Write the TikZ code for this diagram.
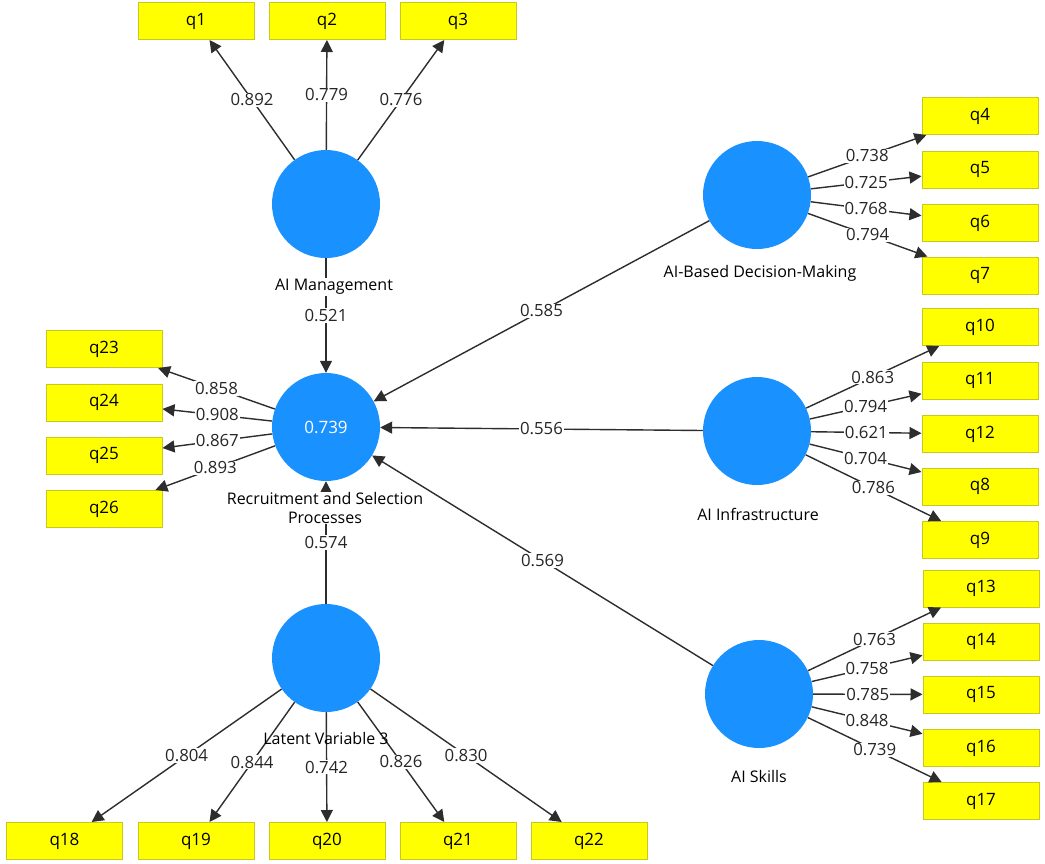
\documentclass[tikz,border=0pt]{standalone}
\usepackage{fontspec}
\setmainfont{Open Sans}
\usetikzlibrary{arrows.meta}
\definecolor{lvblue}{RGB}{25,145,255}
\definecolor{boxfill}{RGB}{255,255,0}
\definecolor{boxedge}{RGB}{200,200,30}
\definecolor{linec}{RGB}{45,45,45}
\begin{document}
\begin{tikzpicture}[x=1pt,y=-1pt,
 lv/.style={circle,fill=lvblue,minimum size=108pt,inner sep=0pt,text=white,font=\fontsize{17}{19}\selectfont},
 ind/.style={rectangle,fill=boxfill,draw=boxedge,line width=1pt,minimum width=116pt,minimum height=37pt,inner sep=0pt,font=\fontsize{17}{19}\selectfont},
 conn/.style={draw=linec,line width=1.4pt,-{Triangle[length=12pt,width=12pt]}},
 wt/.style={fill=white,inner sep=1pt,font=\fontsize{16.8}{19}\selectfont,text=black!85},
 lvname/.style={inner sep=1pt,font=\fontsize{16}{19}\selectfont,align=center}]
\useasboundingbox (0,0) rectangle (1045,863);
% latent variables
\node[lv] (am) at (326,204) {};
\node[lv] (rs) at (326,427) {0.739};
\node[lv] (lv3) at (326,658) {};
\node[lv] (dm) at (757,195) {};
\node[lv] (inf) at (757,431) {};
\node[lv] (sk) at (759,694) {};
% indicators
\node[ind] (q1) at (196,21) {q1};
\node[ind] (q2) at (327,21) {q2};
\node[ind] (q3) at (458,21) {q3};
\node[ind] (q4) at (980,116) {q4};
\node[ind] (q5) at (980,169.5) {q5};
\node[ind] (q6) at (980,223) {q6};
\node[ind] (q7) at (980,275.5) {q7};
\node[ind] (q10) at (980,327) {q10};
\node[ind] (q11) at (980,380.5) {q11};
\node[ind] (q12) at (980,434) {q12};
\node[ind] (q8) at (980,486.5) {q8};
\node[ind] (q9) at (980,540) {q9};
\node[ind] (q13) at (981,588.5) {q13};
\node[ind] (q14) at (981,641.5) {q14};
\node[ind] (q15) at (981,694.5) {q15};
\node[ind] (q16) at (981,748) {q16};
\node[ind] (q17) at (981,801) {q17};
\node[ind] (q18) at (64.5,841) {q18};
\node[ind] (q19) at (196,841) {q19};
\node[ind] (q20) at (327,841) {q20};
\node[ind] (q21) at (458,841) {q21};
\node[ind] (q22) at (589,841) {q22};
\node[ind] (q23) at (104,349) {q23};
\node[ind] (q24) at (104,402.5) {q24};
\node[ind] (q25) at (104,455.5) {q25};
\node[ind] (q26) at (104,509) {q26};
% loadings
\draw[conn] (am) -- node[wt]{0.892} (q1);
\draw[conn] (am) -- node[wt]{0.779} (q2);
\draw[conn] (am) -- node[wt]{0.776} (q3);
\draw[conn] (dm) -- node[wt]{0.738} (q4);
\draw[conn] (dm) -- node[wt]{0.725} (q5);
\draw[conn] (dm) -- node[wt]{0.768} (q6);
\draw[conn] (dm) -- node[wt]{0.794} (q7);
\draw[conn] (inf) -- node[wt]{0.863} (q10);
\draw[conn] (inf) -- node[wt]{0.794} (q11);
\draw[conn] (inf) -- node[wt]{0.621} (q12);
\draw[conn] (inf) -- node[wt]{0.704} (q8);
\draw[conn] (inf) -- node[wt]{0.786} (q9);
\draw[conn] (sk) -- node[wt]{0.763} (q13);
\draw[conn] (sk) -- node[wt]{0.758} (q14);
\draw[conn] (sk) -- node[wt]{0.785} (q15);
\draw[conn] (sk) -- node[wt]{0.848} (q16);
\draw[conn] (sk) -- node[wt]{0.739} (q17);
\draw[conn] (lv3) -- node[wt]{0.804} (q18);
\draw[conn] (lv3) -- node[wt]{0.844} (q19);
\draw[conn] (lv3) -- node[wt]{0.742} (q20);
\draw[conn] (lv3) -- node[wt]{0.826} (q21);
\draw[conn] (lv3) -- node[wt]{0.830} (q22);
\draw[conn] (rs) -- node[wt]{0.858} (q23);
\draw[conn] (rs) -- node[wt]{0.908} (q24);
\draw[conn] (rs) -- node[wt]{0.867} (q25);
\draw[conn] (rs) -- node[wt]{0.893} (q26);
% structural paths
\draw[conn] (am) -- node[wt]{0.521} (rs);
\draw[conn] (dm) -- node[wt]{0.585} (rs);
\draw[conn] (inf) -- node[wt]{0.556} (rs);
\draw[conn] (sk) -- node[wt]{0.569} (rs);
\draw[conn] (lv3) -- node[wt]{0.574} (rs);
% latent variable names
\node[lvname,fill=white] (amname) at (334,287) {AI Management};
\node[lvname,fill=white,inner sep=0pt] (rsname) at (325,508) {Recruitment and Selection\\Processes};
\node[lvname] (lv3name) at (326,738) {Latent Variable 3};
\node[lvname] (dmname) at (760,273) {AI-Based Decision-Making};
\node[lvname] (infname) at (758,514) {AI Infrastructure};
\node[lvname] (skname) at (759,776) {AI Skills};
\end{tikzpicture}
\end{document}
